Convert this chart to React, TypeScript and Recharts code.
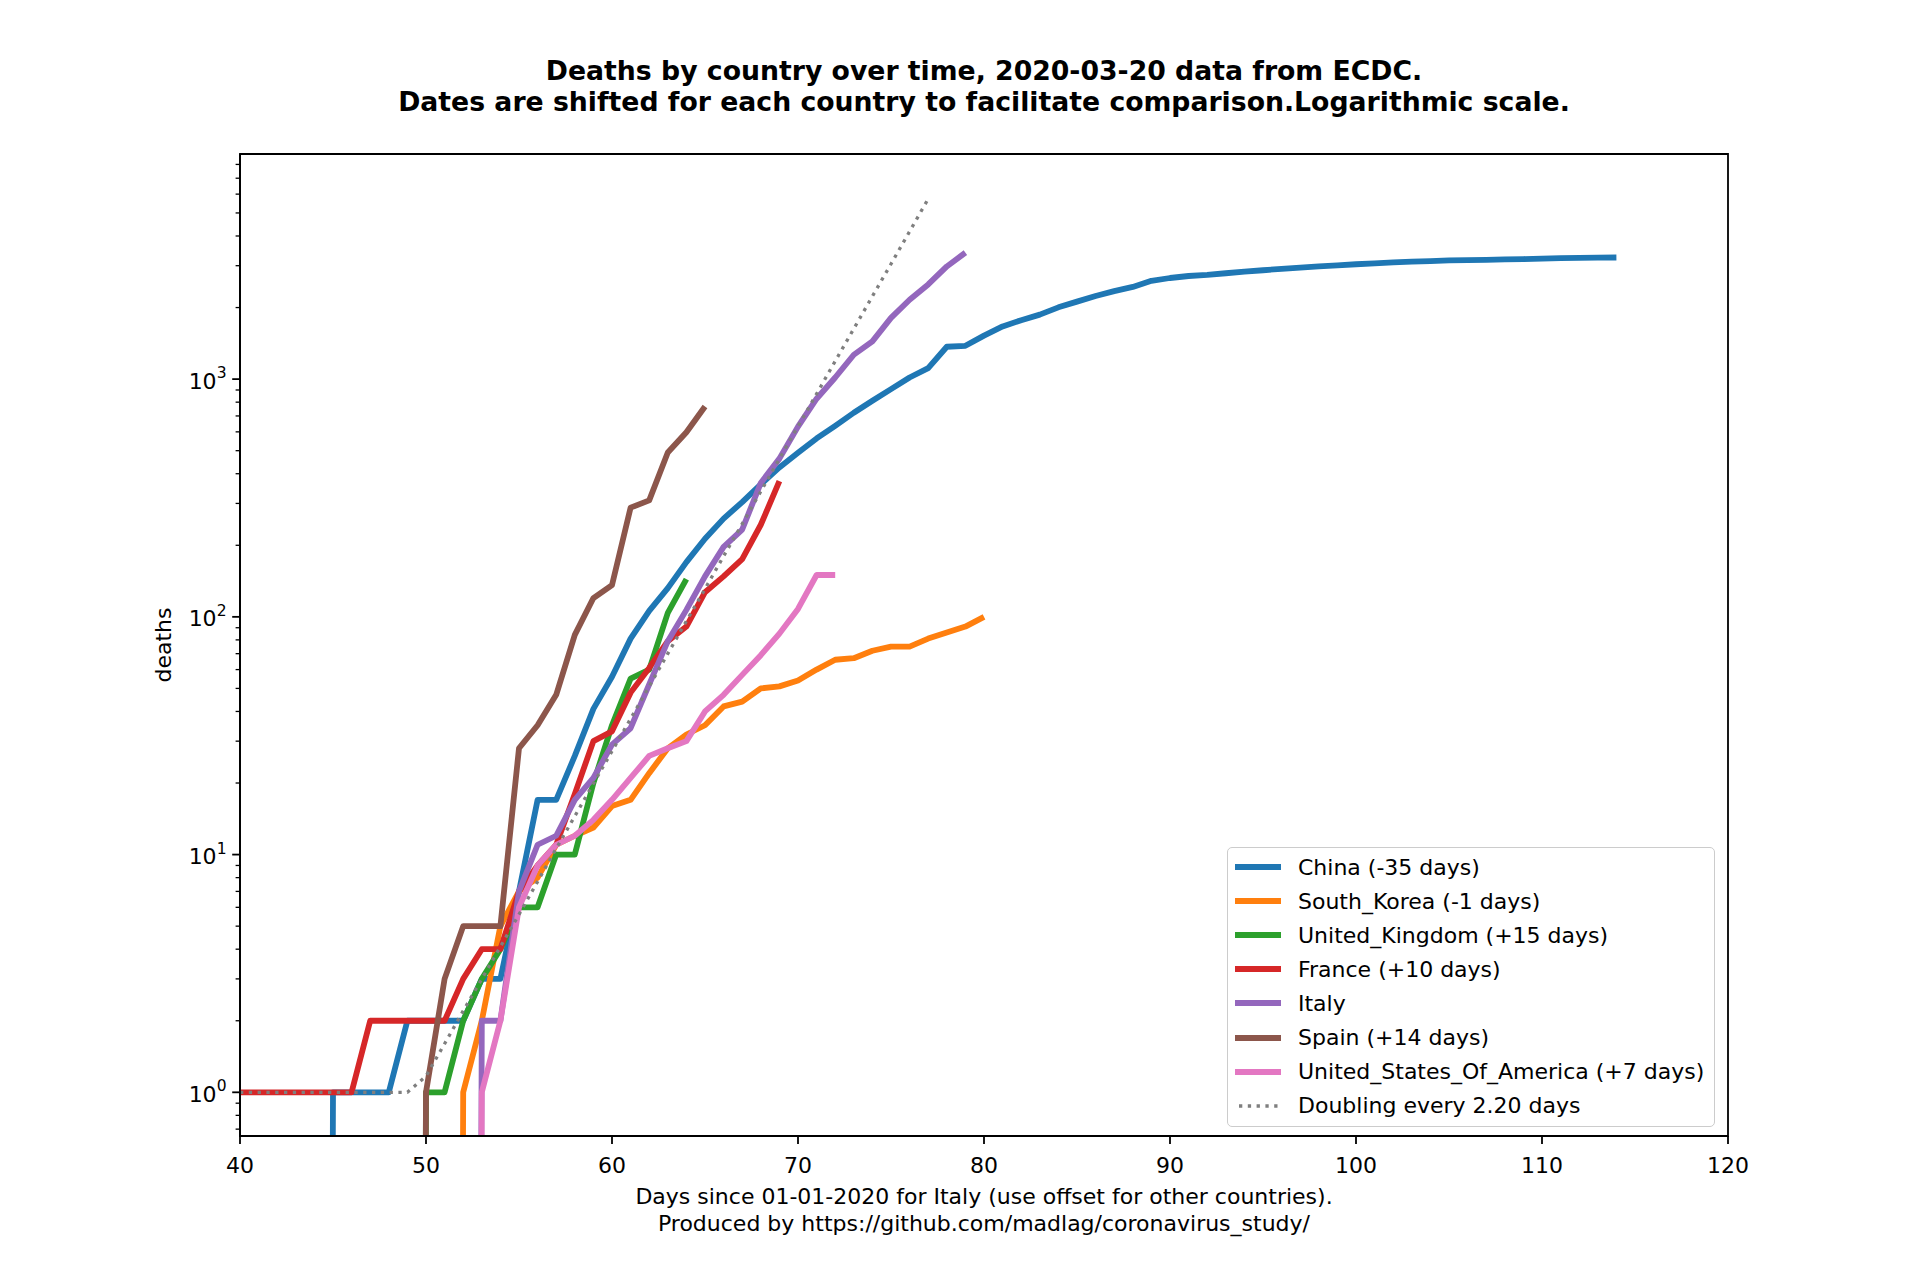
import React from 'react';
import { LineChart, Line, XAxis, YAxis, Legend, ReferenceArea } from 'recharts';

const FONT = '"DejaVu Sans", Verdana, sans-serif';

// cumulative deaths, one value per day starting at the "start" day
const chinaStart = 44;
const chinaDeaths = [
  0, 1, 1, 1, 1, 2, 2, 2, 2, 3, 3, 7, 17, 17, 26, 41, 56, 81, 106, 132, 170, 213, 259, 304,
  361, 425, 490, 563, 636, 722, 811, 908, 1016, 1113, 1368, 1381, 1524, 1666, 1770, 1868, 2004,
  2118, 2236, 2345, 2442, 2592, 2663, 2715, 2744, 2788, 2835, 2870, 2912, 2943, 2981, 3012,
  3042, 3070, 3097, 3119, 3136, 3158, 3169, 3176, 3189, 3199, 3213, 3226, 3237, 3245, 3248,
];

const koreaStart = 51;
const koreaDeaths = [
  0, 1, 2, 5, 7, 8, 11, 12, 13, 16, 17, 22, 28, 32, 35, 42, 44, 50, 51, 54, 60, 66, 67, 72, 75,
  75, 81, 86, 91, 100,
];

const ukStart = 49;
const ukDeaths = [0, 1, 1, 2, 3, 4, 6, 6, 10, 10, 20, 35, 55, 60, 104, 144];

const franceStart = 40;
const franceDeaths = [
  1, 1, 1, 1, 1, 1, 1, 2, 2, 2, 2, 2, 3, 4, 4, 7, 9, 11, 18, 30, 33, 48, 61, 79, 91, 127, 148,
  175, 244, 372,
];

const italyStart = 52;
const italyDeaths = [
  0, 2, 2, 7, 11, 12, 17, 21, 29, 34, 52, 79, 107, 148, 197, 233, 366, 463, 631, 827, 1016,
  1266, 1441, 1809, 2158, 2503, 2978, 3405,
];

const spainStart = 49;
const spainDeaths = [0, 1, 3, 5, 5, 5, 28, 35, 47, 84, 120, 136, 288, 309, 491, 598, 767];

const usaStart = 52;
const usaDeaths = [
  0, 1, 2, 6, 9, 11, 12, 14, 17, 21, 26, 28, 30, 40, 47, 57, 69, 85, 108, 150, 150,
];

const doublingStart = 40;
const doublingDeaths = [
  1, 1, 1, 1, 1, 1, 1, 1, 1, 1, 1.17, 1.6, 2.2, 3.0, 4.1, 5.6, 7.7, 10.6, 14.5, 19.9, 27.2,
  37.3, 51, 70, 96, 131, 180, 246, 337, 462, 633, 867, 1190, 1630, 2230, 3050, 4180, 5730,
];

const xTicks = [40, 50, 60, 70, 80, 90, 100, 110, 120];
const yTicks = [
  0.7, 0.8, 0.9, 1, 2, 3, 4, 5, 6, 7, 8, 9, 10, 20, 30, 40, 50, 60, 70, 80, 90, 100, 200, 300,
  400, 500, 600, 700, 800, 900, 1000, 2000, 3000, 4000, 5000, 6000, 7000, 8000,
];

const xDomain = [40, 120];
const yDomain = [0.655, 8850];

type Pt = { day: number; deaths: number };

// zero can't go on a log axis: push it far below the plot so the line drops out vertically
const toPoints = (start: number, values: number[]): Pt[] =>
  values.map((v, i) => ({ day: start + i, deaths: v > 0 ? v : 1e-20 }));

const series = [
  { name: 'China (-35 days)', color: '#1f77b4', data: toPoints(chinaStart, chinaDeaths) },
  { name: 'South_Korea (-1 days)', color: '#ff7f0e', data: toPoints(koreaStart, koreaDeaths) },
  { name: 'United_Kingdom (+15 days)', color: '#2ca02c', data: toPoints(ukStart, ukDeaths) },
  { name: 'France (+10 days)', color: '#d62728', data: toPoints(franceStart, franceDeaths) },
  { name: 'Italy', color: '#9467bd', data: toPoints(italyStart, italyDeaths) },
  { name: 'Spain (+14 days)', color: '#8c564b', data: toPoints(spainStart, spainDeaths) },
  { name: 'United_States_Of_America (+7 days)', color: '#e377c2', data: toPoints(usaStart, usaDeaths) },
  { name: 'Doubling every 2.20 days', color: '#7f7f7f', data: toPoints(doublingStart, doublingDeaths), dotted: true },
];

const LINE_W = 5.8;
const DOT_W = 3.3;
const DOT_DASH = '3.3 5.5';

function LogTick(props: any) {
  const { x, y, payload } = props;
  const exp = Math.log10(payload.value);
  const major = Math.abs(exp - Math.round(exp)) < 1e-6;
  return (
    <g>
      <line
        x1={x}
        x2={x - (major ? 7.8 : 4.4)}
        y1={y}
        y2={y}
        stroke="#000"
        strokeWidth={major ? 1.8 : 1.3}
      />
      {major && (
        <text
          x={x - 13.5}
          y={y + 2}
          textAnchor="end"
          dominantBaseline="central"
          fontFamily={FONT}
          fontSize={22}
          fill="#000"
        >
          10
          <tspan dy={-8} fontSize={15.5}>
            {Math.round(exp)}
          </tspan>
        </text>
      )}
    </g>
  );
}

function LegendBox() {
  return (
    <div
      style={{
        boxSizing: 'border-box',
        width: 488,
        height: 280,
        border: '1.8px solid #cccccc',
        borderRadius: 5,
        background: 'rgba(255,255,255,0.8)',
        paddingTop: 2,
        paddingLeft: 7,
        fontFamily: FONT,
        fontSize: 22,
        color: '#000',
      }}
    >
      {series.map((s) => (
        <div key={s.name} style={{ display: 'flex', alignItems: 'center', height: 34.1 }}>
          <svg width={46} height={10} style={{ marginRight: 17, flexShrink: 0 }}>
            <line
              x1={s.dotted ? 4 : 0}
              x2={46}
              y1={5}
              y2={5}
              stroke={s.color}
              strokeWidth={s.dotted ? DOT_W : LINE_W}
              strokeDasharray={s.dotted ? DOT_DASH : undefined}
            />
          </svg>
          <span style={{ whiteSpace: 'nowrap' }}>{s.name}</span>
        </div>
      ))}
    </div>
  );
}

export default function App() {
  return (
    <div
      style={{
        position: 'absolute',
        left: 0,
        top: 0,
        width: 1920,
        height: 1280,
        background: '#fff',
      }}
    >
      <div
        style={{
          position: 'absolute',
          left: 240,
          width: 1488,
          top: 56,
          textAlign: 'center',
          fontFamily: FONT,
          fontWeight: 'bold',
          fontSize: 26.7,
          lineHeight: '30.6px',
          color: '#000',
        }}
      >
        Deaths by country over time, 2020-03-20 data from ECDC.
        <br />
        Dates are shifted for each country to facilitate comparison.Logarithmic scale.
      </div>

      <LineChart width={1920} height={1280} margin={{ top: 154, right: 192, bottom: 114, left: 160 }}>
        <XAxis
          dataKey="day"
          type="number"
          domain={xDomain}
          ticks={xTicks}
          interval={0}
          allowDataOverflow
          height={30}
          tickSize={8}
          tickMargin={13}
          tick={{ fill: '#000', fontSize: 22, fontFamily: FONT }}
          tickLine={{ stroke: '#000', strokeWidth: 1.8 }}
          axisLine={{ stroke: '#000', strokeWidth: 1.8 }}
        />
        <YAxis
          type="number"
          scale="log"
          domain={yDomain}
          ticks={yTicks}
          interval={0}
          allowDataOverflow
          width={80}
          tickSize={0}
          tickMargin={0}
          tickLine={false}
          tick={<LogTick />}
          axisLine={{ stroke: '#000', strokeWidth: 1.8 }}
          label={({ viewBox }: any) => (
            <text
              x={viewBox.x + 3}
              y={viewBox.y + viewBox.height / 2}
              transform={`rotate(-90 ${viewBox.x + 3} ${viewBox.y + viewBox.height / 2})`}
              textAnchor="middle"
              dominantBaseline="central"
              fontFamily={FONT}
              fontSize={22}
              fill="#000"
            >
              deaths
            </text>
          )}
        />
        {/* axes frame (top and right spines) */}
        <ReferenceArea
          x1={xDomain[0]}
          x2={xDomain[1]}
          y1={yDomain[0]}
          y2={yDomain[1]}
          fill="none"
          fillOpacity={0}
          stroke="#000"
          strokeWidth={1.8}
          ifOverflow="visible"
        />
        {series.map((s) => (
          <Line
            key={s.name}
            name={s.name}
            data={s.data}
            dataKey="deaths"
            type="linear"
            stroke={s.color}
            strokeWidth={s.dotted ? DOT_W : LINE_W}
            strokeDasharray={s.dotted ? DOT_DASH : undefined}
            strokeLinejoin="round"
            dot={false}
            activeDot={false}
            isAnimationActive={false}
          />
        ))}
        <Legend
          layout="vertical"
          align="center"
          verticalAlign="middle"
          wrapperStyle={{ left: 1227, top: 847, width: 488, height: 280 }}
          content={() => <LegendBox />}
        />
      </LineChart>

      <div
        style={{
          position: 'absolute',
          left: 240,
          width: 1488,
          top: 1182.5,
          textAlign: 'center',
          fontFamily: FONT,
          fontSize: 22,
          lineHeight: '27px',
          color: '#000',
        }}
      >
        Days since 01-01-2020 for Italy (use offset for other countries).
        <br />
        Produced by https://github.com/madlag/coronavirus_study/
      </div>
    </div>
  );
}
